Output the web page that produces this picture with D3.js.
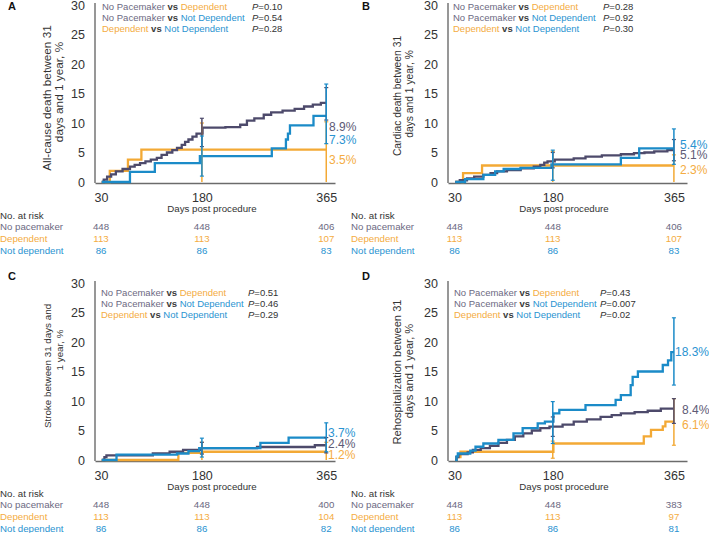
<!DOCTYPE html>
<html><head><meta charset="utf-8">
<script src="https://cdn.jsdelivr.net/npm/d3@7"></script>
<style>body{margin:0;background:#fff;} svg{display:block;font-family:"Liberation Sans",Arial,sans-serif;}</style>
</head><body><svg id="c" width="709" height="533"></svg>
<script>
// ---------- DATA ----------
const yTicks = [0, 5, 10, 15, 20, 25, 30];
const xTicks = [30, 180, 365];
const seriesNames = ["No pacemaker", "Dependent", "Not dependent"];

// Panel A: All-cause death
const A_none = [[31,0],[34,0.4],[39,0.9],[45,1.3],[52,1.8],[62,2.2],[73,2.6],[80,2.9],[88,3.2],[96,3.5],[104,3.8],[113,4.1],[120,4.6],[128,5.0],[136,5.4],[143,5.8],[150,6.3],[155,6.8],[160,7.2],[166,7.7],[172,8.2],[181,9.2],[215,9.3],[237,9.7],[247,10.4],[258,10.8],[272,11.4],[283,11.8],[300,12.1],[318,12.4],[332,12.8],[345,13.1],[357,13.4]];
const A_dep = [[31,0],[43,1.9],[70,3.8],[90,5.5]];
const A_notdep = [[31,0],[73,1.7],[110,3.2],[177,4.4],[284,5.7],[305,7.2],[308,8.2],[311,9.6],[346,11.2]];
const A_ci_none = [[6.0,10.8],[10.5,16.0]];
const A_ci_dep = [[0,10.0],[0,10.2]];
const A_ci_notdep = [[1.0,7.8],[6.5,16.6]];
const A_p = ["0.10", "0.54", "0.28"];
const A_end = ["8.9%", "3.5%", "7.3%"];
const A_risk_none = [448, 448, 406];
const A_risk_dep = [113, 113, 107];
const A_risk_notdep = [86, 86, 83];

// Panel B: Cardiac death
const B_none = [[31,0],[38,0.3],[49,0.6],[60,0.9],[74,1.2],[85,1.5],[95,1.8],[110,2.0],[131,2.3],[151,2.6],[161,2.9],[167,3.3],[172,3.5],[183,3.8],[212,4.0],[230,4.3],[255,4.5],[284,4.7],[304,4.9],[320,5.0],[335,5.2],[355,5.4]];
const B_dep = [[31,0],[43,1.5],[72,2.8]];
const B_notdep = [[31,0],[46,0.5],[74,1.2],[92,1.8],[105,2.2],[131,2.4],[178,3.0],[284,4.1],[312,5.7]];
const B_ci_none = [[2.4,5.0],[3.6,7.2]];
const B_ci_dep = [[0,5.2],[0,4.6]];
const B_ci_notdep = [[0.3,5.4],[3.0,9.0]];
const B_p = ["0.28", "0.92", "0.30"];
const B_end = ["5.1%", "2.3%", "5.4%"];
const B_risk_none = [448, 448, 406];
const B_risk_dep = [113, 113, 107];
const B_risk_notdep = [86, 86, 83];

// Panel C: Stroke
const C_none = [[31,0],[35,0.5],[38,0.8],[107,1.1],[132,1.4],[152,1.7],[178,2.0],[262,2.2],[348,2.5]];
const C_dep = [[31,0],[145,1.2],[181,1.4]];
const C_notdep = [[31,0],[53,0.9],[143,1.1],[160,1.5],[176,2.0],[267,2.9],[309,3.8]];
const C_ci_none = [[1.0,3.0],[1.2,3.8]];
const C_ci_dep = [[0,3.0],[0,3.0]];
const C_ci_notdep = [[0.5,3.7],[1.4,6.3]];
const C_p = ["0.51", "0.46", "0.29"];
const C_end = ["2.4%", "1.2%", "3.7%"];
const C_risk_none = [448, 448, 400];
const C_risk_dep = [113, 113, 104];
const C_risk_notdep = [86, 86, 82];

// Panel D: Rehospitalization
const D_none = [[31,0],[33,0.5],[36,1.0],[50,1.3],[58,1.7],[70,2.0],[84,2.4],[97,2.9],[110,3.4],[122,4.0],[135,4.5],[148,5.0],[161,5.4],[175,5.65],[195,6.0],[212,6.5],[232,6.9],[253,7.3],[270,7.6],[284,7.9],[305,8.1],[325,8.35],[345,8.7]];
const D_dep = [[31,0],[33,0.5],[39,1.4],[181,2.8],[319,4.0],[330,5.1],[348,5.7],[352,6.5]];
const D_notdep = [[31,0],[33,0.6],[35,1.1],[54,1.6],[62,2.25],[74,2.8],[97,3.4],[120,4.5],[134,5.4],[157,6.2],[168,6.5],[181,7.9],[190,8.5],[230,9.3],[276,10.2],[284,11.0],[299,12.7],[302,14.1],[310,15.0],[348,16.1],[356,16.9],[361,18.3]];
const D_ci_none = [[4.0,7.3],[6.2,10.4]];
const D_ci_dep = [[0.3,3.2],[2.5,10.4]];
const D_ci_notdep = [[2.8,9.9],[12.7,24.1]];
const D_p = ["0.43", "0.007", "0.02"];
const D_end = ["8.4%", "6.1%", "18.3%"];
const D_risk_none = [448, 448, 383];
const D_risk_dep = [113, 113, 97];
const D_risk_notdep = [86, 86, 81];

// ---------- STYLE ----------
const LINEC = {none: "#4d4a6b", dep: "#f3a935", notdep: "#1b8bc8"};
const TEXTC = {none: "#6c6982", dep: "#f4ac42", notdep: "#2a93d1"};
const DARK = "#333";
const SMALL = 9.7;
const LEGFS = 9.5;

const svg = d3.select("#c");

const panels = [
  {letter:"A", lx:8, ly:6, xDomain:[21,378], xRange:[95,335], y0:182, y30:5,
   ylab:["All-cause death between 31","days and 1 year, %"], ylabX:[47,59], ylabY:[98,92], ylabFs:11.8,
   legX:102, pX:252, legY:[6,17,28],
   none:A_none, dep:A_dep, notdep:A_notdep, ci:{none:A_ci_none, dep:A_ci_dep, notdep:A_ci_notdep},
   p:A_p, end:A_end, endPos:[[329,127],[329,160],[329,140]],
   risk:{none:A_risk_none, dep:A_risk_dep, notdep:A_risk_notdep},
   daysX:212, daysY:208, riskX:0, riskY:215},
  {letter:"B", lx:362, ly:6, xDomain:[20,385], xRange:[448,687], y0:182, y30:5,
   ylab:["Cardiac death between 31","days and 1 year, %"], ylabX:[397,409], ylabY:[96,94], ylabFs:10.3,
   legX:453, pX:603, legY:[6,17,28],
   none:B_none, dep:B_dep, notdep:B_notdep, ci:{none:B_ci_none, dep:B_ci_dep, notdep:B_ci_notdep},
   p:B_p, end:B_end, endPos:[[680,155],[680,170],[680,145]],
   risk:{none:B_risk_none, dep:B_risk_dep, notdep:B_risk_notdep},
   daysX:564, daysY:208, riskX:351, riskY:215},
  {letter:"C", lx:8, ly:276, xDomain:[21,378], xRange:[95,335], y0:460, y30:283,
   ylab:["Stroke between 31 days and","1 year, %"], ylabX:[47,59], ylabY:[366,350], ylabFs:9.8,
   legX:101, pX:248, legY:[292,303,314],
   none:C_none, dep:C_dep, notdep:C_notdep, ci:{none:C_ci_none, dep:C_ci_dep, notdep:C_ci_notdep},
   p:C_p, end:C_end, endPos:[[328,444],[328,455],[328,433]],
   risk:{none:C_risk_none, dep:C_risk_dep, notdep:C_risk_notdep},
   daysX:212, daysY:486, riskX:0, riskY:493},
  {letter:"D", lx:362, ly:276, xDomain:[20,385], xRange:[448,687], y0:460, y30:283,
   ylab:["Rehospitalization between 31","days and 1 year, %"], ylabX:[397,409], ylabY:[372,371], ylabFs:11.1,
   legX:454, pX:600, legY:[292,303,314],
   none:D_none, dep:D_dep, notdep:D_notdep, ci:{none:D_ci_none, dep:D_ci_dep, notdep:D_ci_notdep},
   p:D_p, end:D_end, endPos:[[682,410],[682,425],[675,352]],
   risk:{none:D_risk_none, dep:D_risk_dep, notdep:D_risk_notdep},
   daysX:564, daysY:486, riskX:351, riskY:493}
];

const legendRows = [
  [["No Pacemaker","none"],[" vs ","vs"],["Dependent","dep"]],
  [["No Pacemaker","none"],[" vs ","vs"],["Not Dependent","notdep"]],
  [["Dependent","dep"],[" vs ","vs"],["Not Dependent","notdep"]]
];

panels.forEach(cfg => {
  const g = svg.append("g");
  const x = d3.scaleLinear().domain(cfg.xDomain).range(cfg.xRange);
  const y = d3.scaleLinear().domain([0, 30]).range([cfg.y0, cfg.y30]);

  g.append("text").attr("x", cfg.lx).attr("y", cfg.ly).attr("dominant-baseline","central")
    .attr("font-size", 11).attr("font-weight", "bold").attr("fill", "#111").text(cfg.letter);

  const ya = g.append("g").attr("transform", `translate(${cfg.xRange[0]},0)`)
    .call(d3.axisLeft(y).tickValues(yTicks).tickSize(0).tickSizeOuter(0).tickPadding(10));
  ya.select(".domain").attr("stroke", "#6b6b6b").attr("stroke-width", 1.4)
    .attr("d", `M0,${cfg.y30 - 2}V${cfg.y0 + 1}`);
  ya.selectAll("text").attr("font-size", 12.5).attr("fill", DARK).attr("font-family", "Liberation Sans, Arial");

  const xa = g.append("g").attr("transform", `translate(0,${cfg.y0 + 1})`)
    .call(d3.axisBottom(x).tickValues(xTicks).tickSize(0).tickSizeOuter(0).tickPadding(10));
  xa.select(".domain").attr("stroke", "#6b6b6b").attr("stroke-width", 1.4);
  xa.selectAll("text").attr("font-size", 12.5).attr("fill", DARK).attr("font-family", "Liberation Sans, Arial");

  cfg.ylab.forEach((t, i) => {
    g.append("text").attr("transform", `translate(${cfg.ylabX[i]},${cfg.ylabY[i]}) rotate(-90)`)
      .attr("text-anchor", "middle").attr("dominant-baseline", "central")
      .attr("font-size", cfg.ylabFs).attr("fill", DARK).text(t);
  });

  legendRows.forEach((row, i) => {
    const t = g.append("text").attr("x", cfg.legX).attr("y", cfg.legY[i])
      .attr("dominant-baseline", "central").attr("font-size", LEGFS);
    row.forEach(([s, k]) => {
      t.append("tspan").attr("fill", k === "vs" ? "#3b3b3b" : TEXTC[k])
        .attr("font-weight", k === "vs" ? "bold" : "normal")
        .attr("xml:space", "preserve").text(s);
    });
    const p = g.append("text").attr("x", cfg.pX).attr("y", cfg.legY[i])
      .attr("dominant-baseline", "central").attr("font-size", LEGFS).attr("fill", DARK);
    p.append("tspan").attr("font-style", "italic").text("P");
    p.append("tspan").text("=" + cfg.p[i]);
  });

  const line = d3.line().x(d => x(d[0])).y(d => y(d[1])).curve(d3.curveStepAfter);
  ["dep", "none", "notdep"].forEach(k => {
    const pts = cfg[k].concat([[365, cfg[k][cfg[k].length - 1][1]]]);
    g.append("path").attr("d", line(pts)).attr("fill", "none")
      .attr("stroke", LINEC[k]).attr("stroke-width", 2.3);
  });

  ["dep", "none", "notdep"].forEach(k => {
    [180, 365].forEach((d, j) => {
      const [lo, hi] = cfg.ci[k][j];
      const xx = x(d);
      g.append("line").attr("x1", xx).attr("x2", xx).attr("y1", y(lo)).attr("y2", y(hi))
        .attr("stroke", LINEC[k]).attr("stroke-width", 1.5);
      [lo, hi].forEach(v => {
        if (v > 0) g.append("line").attr("x1", xx - 2).attr("x2", xx + 2).attr("y1", y(v)).attr("y2", y(v))
          .attr("stroke", LINEC[k]).attr("stroke-width", 1.2);
      });
    });
  });

  ["none", "dep", "notdep"].forEach((k, i) => {
    g.append("text").attr("x", cfg.endPos[i][0]).attr("y", cfg.endPos[i][1])
      .attr("dominant-baseline", "central").attr("font-size", 12)
      .attr("fill", k === "dep" ? TEXTC.dep : (k === "none" ? "#5d5a75" : TEXTC.notdep))
      .text(cfg.end[i]);
  });

  g.append("text").attr("x", cfg.daysX).attr("y", cfg.daysY).attr("text-anchor", "middle")
    .attr("dominant-baseline", "central").attr("font-size", SMALL).attr("fill", DARK).text("Days post procedure");

  g.append("text").attr("x", cfg.riskX).attr("y", cfg.riskY).attr("dominant-baseline", "central")
    .attr("font-size", SMALL).attr("fill", DARK).text("No. at risk");
  ["none", "dep", "notdep"].forEach((k, i) => {
    const yy = cfg.riskY + 11.7 * (i + 1);
    g.append("text").attr("x", cfg.riskX).attr("y", yy).attr("dominant-baseline", "central")
      .attr("font-size", SMALL).attr("fill", TEXTC[k]).text(seriesNames[i]);
    cfg.risk[k].forEach((n, j) => {
      g.append("text").attr("x", x(xTicks[j])).attr("y", yy).attr("text-anchor", "middle")
        .attr("dominant-baseline", "central").attr("font-size", SMALL).attr("fill", TEXTC[k]).text(n);
    });
  });
});
</script></body></html>
